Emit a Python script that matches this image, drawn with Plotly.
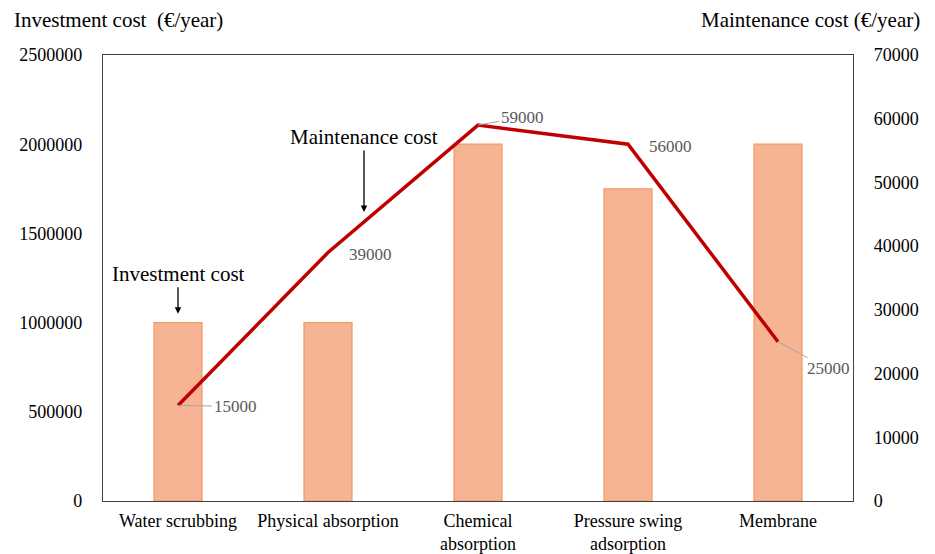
import plotly.graph_objects as go

categories = ["Water scrubbing", "Physical absorption", "Chemical<br>absorption",
              "Pressure swing<br>adsorption", "Membrane"]
investment = [1000000, 1000000, 2000000, 1750000, 2000000]
maintenance = [15000, 39000, 59000, 56000, 25000]

left_ticks = [0, 500000, 1000000, 1500000, 2000000, 2500000]
right_ticks = [0, 10000, 20000, 30000, 40000, 50000, 60000, 70000]

FONT = "Liberation Serif, Times New Roman, serif"

fig = go.Figure()
fig.add_trace(go.Bar(
    x=categories, y=investment, width=0.32,
    marker=dict(color="#f6b495", line=dict(color="#f39a5e", width=1.2)),
    showlegend=False, hoverinfo="skip",
))
fig.add_trace(go.Scatter(
    x=categories, y=maintenance, yaxis="y2", mode="lines",
    line=dict(color="#c00000", width=3.5), showlegend=False,
))

lab_font = dict(family=FONT, size=17, color="#595959")
# Data labels for maintenance line
label_specs = [
    (0, 57, 1, True),
    (1, 42, -2, False),
    (2, 44, -8, True),
    (3, 42, -2, False),
    (4, 50, 27, True),
]
for (i, ax, ay, arrow) in label_specs:
    if arrow:
        fig.add_annotation(x=categories[i], y=maintenance[i], xref="x", yref="y2",
                           text=str(maintenance[i]), showarrow=True, arrowhead=0,
                           arrowwidth=1, arrowcolor="#a6a6a6", ax=ax, ay=ay,
                           font=lab_font)
    else:
        fig.add_annotation(x=categories[i], y=maintenance[i], xref="x", yref="y2",
                           text=str(maintenance[i]), showarrow=False,
                           xshift=ax, yshift=ay, font=lab_font)

# Callouts
fig.add_annotation(x=0, y=1050000, xref="x", yref="y", text="Investment cost",
                   showarrow=True, arrowhead=2, arrowsize=1, arrowwidth=1.3,
                   arrowcolor="black", ax=0, ay=-40,
                   font=dict(family=FONT, size=21, color="black"))
fig.add_annotation(x=1.24, y=1620000, xref="x", yref="y", text="Maintenance cost",
                   showarrow=True, arrowhead=2, arrowsize=1, arrowwidth=1.3,
                   arrowcolor="black", ax=0, ay=-75,
                   font=dict(family=FONT, size=21, color="black"))

# Axis titles
fig.add_annotation(x=-91/750, y=(501-20)/446, xref="paper", yref="paper",
                   xanchor="left", yanchor="middle", showarrow=False,
                   text="Investment cost  (€/year)",
                   font=dict(family=FONT, size=21, color="black"))
fig.add_annotation(x=(922-103)/750, y=(501-20)/446, xref="paper", yref="paper",
                   xanchor="right", yanchor="middle", showarrow=False,
                   text="Maintenance cost (€/year)",
                   font=dict(family=FONT, size=21, color="black"))

# page body has an 8px default margin, so the figure is sized/offset to compensate
fig.update_layout(
    width=927, height=546,
    margin=dict(l=95, r=82, t=47, b=53, autoexpand=False),
    paper_bgcolor="white", plot_bgcolor="white",
    font=dict(family=FONT, size=18, color="black"),
    bargap=0.68,
    xaxis=dict(showline=True, linecolor="#404040", linewidth=1.3, mirror=True,
               ticks="", showgrid=False, tickfont=dict(size=18), automargin=False,
               ticklabelstandoff=3),
    yaxis=dict(range=[0, 2500000], tickvals=left_ticks, ticktext=[str(v) for v in left_ticks],
               showline=True, linecolor="#404040", linewidth=1.3, showgrid=False,
               ticks="", ticklabelstandoff=16, zeroline=False, tickfont=dict(size=18),
               automargin=False),
    yaxis2=dict(range=[0, 70000], tickvals=right_ticks, ticktext=[str(v) for v in right_ticks],
                overlaying="y", side="right", showline=True, linecolor="#404040",
                linewidth=1.3, showgrid=False, ticks="", ticklabelstandoff=16,
                zeroline=False, tickfont=dict(size=18), automargin=False),
)

fig.write_html("out.html")
